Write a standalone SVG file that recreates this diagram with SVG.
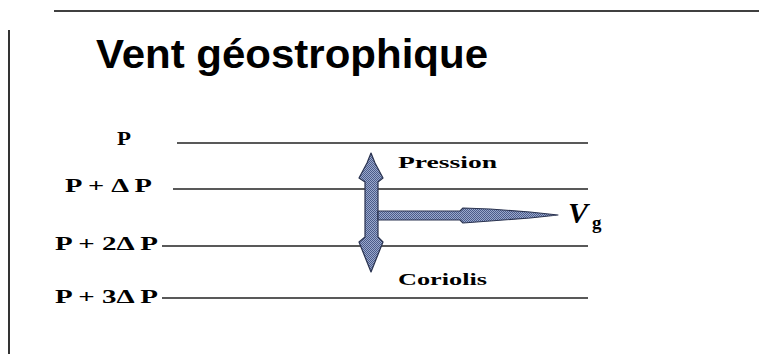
<svg xmlns="http://www.w3.org/2000/svg" width="759" height="354" viewBox="0 0 759 354">
<style>
.title{font-family:"Liberation Sans",Arial,sans-serif;font-weight:bold;font-size:41px;fill:#000}
.lbl{font-family:"Liberation Serif","Times New Roman",serif;font-weight:bold;font-size:18px;fill:#000}
.iso{stroke:#222;stroke-width:1.3;fill:none}
.frame{stroke:#000;stroke-width:1.6;fill:none}
.arrow{fill:url(#hatch);stroke:#2a3350;stroke-width:1.2;stroke-linejoin:round}
</style>
<defs>
<pattern id="hatch" width="2" height="2" patternUnits="userSpaceOnUse">
<rect width="2" height="2" fill="#9aa9cc"/>
<rect width="1" height="1" fill="#4b5b8a"/>
<rect x="1" y="1" width="1" height="1" fill="#4b5b8a"/>
</pattern>
</defs>
<rect width="759" height="354" fill="#fff"/>
<g id="frame">
<line class="frame" x1="54" y1="11" x2="759" y2="11"/>
<line class="frame" x1="9" y1="30" x2="9" y2="354"/>
</g>
<g id="title">
<text class="title" x="96" y="68" textLength="392" lengthAdjust="spacingAndGlyphs">Vent géostrophique</text>
</g>
<g id="isobars">
<g id="isobar-p">
<text class="lbl" x="117" y="145" textLength="14" lengthAdjust="spacingAndGlyphs">P</text>
<line class="iso" x1="177" y1="143" x2="588" y2="143"/>
</g>
<g id="isobar-p1">
<text class="lbl" x="65" y="192" textLength="87" lengthAdjust="spacingAndGlyphs">P + Δ P</text>
<line class="iso" x1="173" y1="189" x2="588" y2="189"/>
</g>
<g id="isobar-p2">
<text class="lbl" x="55" y="250" textLength="103" lengthAdjust="spacingAndGlyphs">P + 2Δ P</text>
<line class="iso" x1="162" y1="246" x2="588" y2="246"/>
</g>
<g id="isobar-p3">
<text class="lbl" x="55" y="303" textLength="103" lengthAdjust="spacingAndGlyphs">P + 3Δ P</text>
<line class="iso" x1="162" y1="298" x2="588" y2="298"/>
</g>
</g>
<g id="connectors">
<polygon class="arrow" points="371,153 375,163 383,178 378,182 378,237 383,242 375,262 371,272 367,262 359,242 365,237 365,182 359,178 367,163"/>
<polygon class="arrow" points="378,211 460,211 463,208 490,209 530,212 558,215 530,218 490,221 463,223 460,220 378,220"/>
</g>
<g id="label-pression">
<text class="lbl" x="398" y="168" textLength="99" lengthAdjust="spacingAndGlyphs" style="font-size:16px">Pression</text>
</g>
<g id="label-coriolis">
<text class="lbl" x="398" y="285" textLength="89" lengthAdjust="spacingAndGlyphs" style="font-size:16px">Coriolis</text>
</g>
<g id="label-vg">
<text class="lbl" x="568" y="223" style="font-size:30px;font-style:italic">V</text>
<text class="lbl" x="592" y="229" style="font-size:19px">g</text>
</g>
</svg>
